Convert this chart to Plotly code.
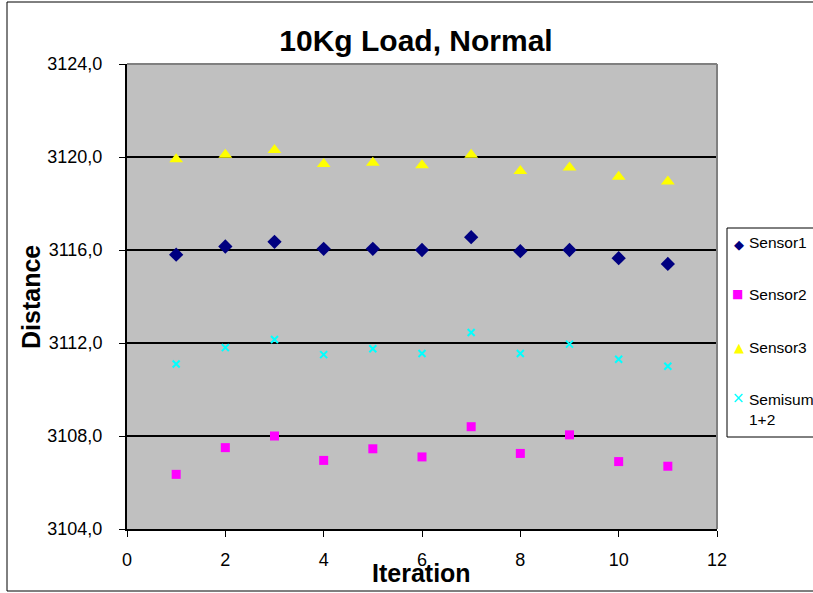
import plotly.graph_objects as go

# Measured distances per iteration
iterations = [1, 2, 3, 4, 5, 6, 7, 8, 9, 10, 11]
sensor1 = [3115.8, 3116.15, 3116.35, 3116.05, 3116.05, 3116.0, 3116.55, 3115.95, 3116.0, 3115.65, 3115.4]
sensor2 = [3106.35, 3107.5, 3108.0, 3106.95, 3107.45, 3107.1, 3108.4, 3107.25, 3108.05, 3106.9, 3106.7]
sensor3 = [3119.9, 3120.1, 3120.3, 3119.7, 3119.75, 3119.65, 3120.1, 3119.4, 3119.55, 3119.15, 3118.95]
semisum12 = [3111.1, 3111.8, 3112.15, 3111.5, 3111.75, 3111.55, 3112.45, 3111.55, 3111.95, 3111.3, 3111.0]
series_names = ["Sensor1", "Sensor2", "Sensor3", "Semisum<br>1+2"]

X_RANGE = [0, 12]
Y_RANGE = [3104, 3124]

W, H = 813, 593
ML, MR, MT, MB = 127, 96, 64, 64
PW, PH = W - ML - MR, H - MT - MB


def paper_x(px):
    return (px - ML) / PW


def paper_y(py):
    return (H - MB - py) / PH


colors = ["#000080", "#FF00FF", "#FFFF00", "#00FFFF"]
styles = [
    dict(symbol="diamond", color=colors[0], size=11, line=dict(width=0)),
    dict(symbol="square", color=colors[1], size=9, line=dict(width=0)),
    dict(symbol="triangle-up", color=colors[2], size=12, line=dict(width=0)),
    dict(symbol="x-thin", color=colors[3], size=7, line=dict(color=colors[3], width=2)),
]
values = [sensor1, sensor2, sensor3, semisum12]

# legend key: glyph, glyph size, glyph position, text line centre
key_glyphs = ["\u25C6", "\u25A0", "\u25B2", "\u00D7"]
key_glyph_size = [13, 12, 13, 15]
key_glyph_px = [(739, 244), (737, 294), (739, 347), (738, 398)]
key_text_py = [243, 294, 347, 409]

fig = go.Figure()
for name, vals, st in zip(series_names, values, styles):
    fig.add_trace(go.Scatter(
        x=iterations, y=vals, mode="markers", name=name.replace("<br>", " "),
        marker=st, showlegend=False,
    ))

font = "Arial, 'Liberation Sans', sans-serif"

annotations = [
    dict(text="<b>Iteration</b>", xref="paper", yref="paper",
         x=paper_x(421), y=paper_y(573), xanchor="center", yanchor="middle",
         showarrow=False, font=dict(size=25, family=font)),
    dict(text="<b>Distance</b>", xref="paper", yref="paper", textangle=-90,
         x=paper_x(31), y=paper_y(297), xanchor="center", yanchor="middle",
         showarrow=False, font=dict(size=25, family=font)),
]
for name, ty in zip(series_names, key_text_py):
    annotations.append(dict(
        text=name, xref="paper", yref="paper", x=paper_x(747), y=paper_y(ty),
        xanchor="left", yanchor="middle", align="left", showarrow=False,
        font=dict(size=15.5, family=font),
    ))
for glyph, gs, (gx, gy), col in zip(key_glyphs, key_glyph_size, key_glyph_px, colors):
    annotations.append(dict(
        text=glyph, xref="paper", yref="paper", x=paper_x(gx), y=paper_y(gy),
        xanchor="center", yanchor="middle", showarrow=False,
        font=dict(size=gs, family="DejaVu Sans", color=col),
    ))

fig.update_layout(
    width=W, height=H,
    margin=dict(l=ML, r=MR, t=MT, b=MB, autoexpand=False),
    paper_bgcolor="white",
    plot_bgcolor="#C0C0C0",
    separators=",.",
    font=dict(family=font, color="black", size=18),
    title=dict(text="<b>10Kg Load, Normal</b>", x=416 / W,
               xanchor="center", y=1 - 40 / H, yanchor="middle",
               font=dict(size=30, family=font)),
    xaxis=dict(
        range=X_RANGE, dtick=2, tick0=0, showgrid=False, zeroline=False,
        showline=True, linecolor="black", linewidth=2,
        ticks="outside", ticklen=6, tickwidth=1, tickcolor="black",
        tickfont=dict(size=18), ticklabelstandoff=7,
    ),
    yaxis=dict(
        range=Y_RANGE, dtick=4, tick0=3104, tickformat=".1f",
        showgrid=True, gridcolor="black", gridwidth=1.5, zeroline=False,
        showline=True, linecolor="black", linewidth=2,
        ticks="outside", ticklen=6, tickwidth=1, tickcolor="black",
        tickfont=dict(size=18), ticklabelstandoff=13,
    ),
    showlegend=False,
    annotations=annotations,
    shapes=[
        # grey top and right edges of the plotting area
        dict(type="line", xref="paper", yref="paper", x0=0, x1=1, y0=1, y1=1,
             line=dict(color="#808080", width=2), layer="above"),
        dict(type="line", xref="paper", yref="paper", x0=1, x1=1, y0=0, y1=1,
             line=dict(color="#808080", width=2), layer="above"),
        # legend key box
        dict(type="rect", xref="paper", yref="paper",
             x0=paper_x(727), x1=paper_x(840), y0=paper_y(437), y1=paper_y(228),
             line=dict(color="black", width=1), fillcolor="white", layer="below"),
        # chart frame
        dict(type="rect", xref="paper", yref="paper",
             x0=paper_x(7), x1=paper_x(840), y0=paper_y(591), y1=paper_y(2),
             line=dict(color="black", width=1), fillcolor="rgba(0,0,0,0)"),
    ],
)

fig.write_html("out.html")
